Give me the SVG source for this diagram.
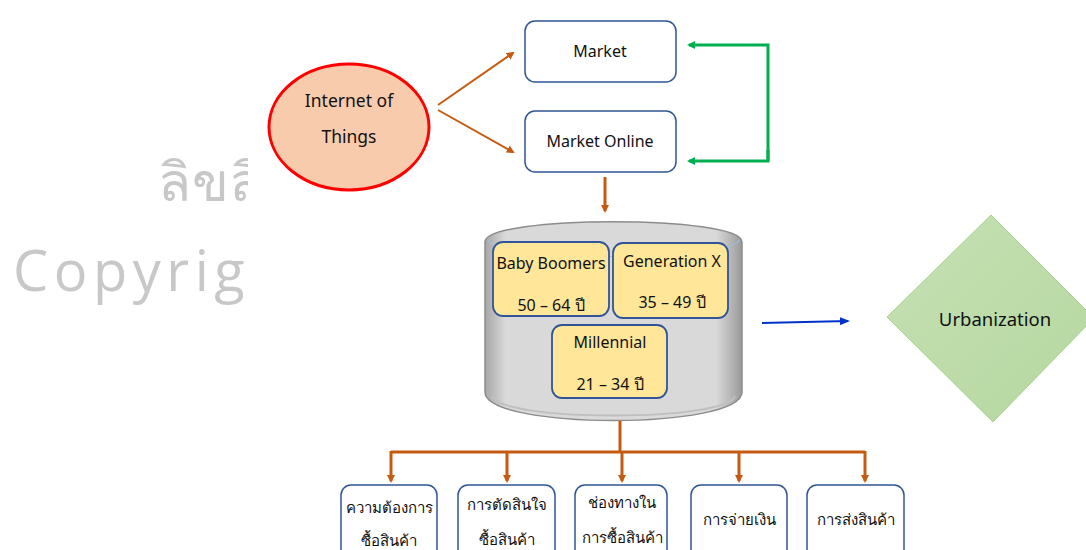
<svg xmlns="http://www.w3.org/2000/svg" width="1086" height="550" viewBox="0 0 1086 550">
<style>
text{font-family:"Noto Sans","DejaVu Sans",sans-serif;fill:#111;text-anchor:middle;}
.t{font-size:16px;}
.th{font-size:15px;}
.box{fill:#fff;stroke:#2f5597;stroke-width:1.5;}
.ybox{fill:#ffe699;stroke:#2f5597;stroke-width:1.8;}
.or{stroke:#c55a11;stroke-width:3;fill:none;}
.or2{stroke:#c55a11;stroke-width:2;fill:none;}
.gr{stroke:#00b050;stroke-width:3;fill:none;}
.wm{fill:#c8c8c8;text-anchor:start;font-family:"Open Sans","Noto Sans",sans-serif;}
</style>
<defs>
<marker id="ao" markerWidth="8" markerHeight="8" refX="6" refY="4" orient="auto" markerUnits="userSpaceOnUse"><path d="M0,0 L8,4 L0,8 Z" fill="#c55a11"/></marker>
<marker id="ag" markerWidth="8" markerHeight="8" refX="6" refY="4" orient="auto" markerUnits="userSpaceOnUse"><path d="M0,0 L8,4 L0,8 Z" fill="#00b050"/></marker>
<marker id="ab" markerWidth="10" markerHeight="8" refX="8" refY="4" orient="auto" markerUnits="userSpaceOnUse"><path d="M0,0 L10,4 L0,8 Z" fill="#0033cc"/></marker>
<linearGradient id="cyl" x1="0" x2="1" y1="0" y2="0">
<stop offset="0" stop-color="#a6a6a6"/><stop offset="0.08" stop-color="#d9d9d9"/><stop offset="0.9" stop-color="#d9d9d9"/><stop offset="1" stop-color="#9a9a9a"/>
</linearGradient>
<linearGradient id="dia" x1="0" y1="0" x2="1" y2="1">
<stop offset="0" stop-color="#c6e2b3"/><stop offset="1" stop-color="#b4d6a0"/>
</linearGradient>
<clipPath id="wmclip"><rect x="0" y="0" width="248" height="550"/></clipPath>
</defs>

<g id="watermark" clip-path="url(#wmclip)">
<text class="wm" x="158" y="201" font-size="54" letter-spacing="1">ลิขสิทธิ์</text>
<text class="wm" x="13" y="291" font-size="56" letter-spacing="5.5">Copyright</text>
</g>

<g id="connectors">
<line class="or2" x1="438" y1="105" x2="513" y2="53" marker-end="url(#ao)"/>
<line class="or2" x1="438" y1="110" x2="513" y2="152" marker-end="url(#ao)"/>
<path class="gr" d="M768,161 L768,45 L689,45" marker-end="url(#ag)"/>
<path class="gr" d="M768,150 L768,161 L689,161" marker-end="url(#ag)"/>
<line class="or" x1="605" y1="177" x2="605" y2="211" marker-end="url(#ao)"/>
<line x1="762" y1="323" x2="848" y2="321" stroke="#0033cc" stroke-width="2" marker-end="url(#ab)"/>
<path class="or" d="M620,420 L620,452 M391,452 L865,452"/>
<line class="or" x1="391" y1="451" x2="391" y2="481" marker-end="url(#ao)"/>
<line class="or" x1="507" y1="451" x2="507" y2="481" marker-end="url(#ao)"/>
<line class="or" x1="622" y1="451" x2="622" y2="481" marker-end="url(#ao)"/>
<line class="or" x1="739" y1="451" x2="739" y2="481" marker-end="url(#ao)"/>
<line class="or" x1="865" y1="451" x2="865" y2="481" marker-end="url(#ao)"/>
</g>

<g id="iot">
<ellipse cx="349" cy="127" rx="80" ry="63" fill="#f8cbad" stroke="#ff0000" stroke-width="3"/>
<text x="349" y="107" font-size="17.5">Internet  of</text>
<text x="349" y="143" font-size="17.5">Things</text>
</g>

<g id="market">
<rect class="box" x="525" y="21" width="151" height="61" rx="10"/>
<text class="t" x="600" y="57">Market</text>
</g>

<g id="market-online">
<rect class="box" x="525" y="111" width="151" height="61" rx="10"/>
<text class="t" x="600" y="147">Market Online</text>
</g>

<g id="cylinder">
<path d="M485,242 C485,215 742,215 742,242 L742,392 C742,430 485,430 485,392 Z" fill="url(#cyl)" stroke="#8c8c8c" stroke-width="1.5"/>
<path d="M488,240 C495,262 732,262 739,240" fill="none" stroke="#9dc3e6" stroke-width="1"/>
<path d="M492,396 C500,422 727,422 735,396" fill="none" stroke="#bfbfbf" stroke-width="2"/>
</g>

<g id="baby-boomers">
<rect class="ybox" x="493" y="242" width="116" height="74" rx="10"/>
<text class="t" x="551" y="269">Baby Boomers</text>
<text class="t" x="551" y="311">50 – 64 ปี</text>
</g>

<g id="generation-x">
<rect class="ybox" x="613" y="243" width="115" height="75" rx="10"/>
<text class="t" x="672" y="267">Generation X</text>
<text class="t" x="672" y="308">35 – 49 ปี</text>
</g>

<g id="millennial">
<rect class="ybox" x="552" y="325" width="115" height="73" rx="10"/>
<text class="t" x="610" y="348">Millennial</text>
<text class="t" x="610" y="390">21 – 34 ปี</text>
</g>

<g id="urbanization">
<path d="M991,215 L1094,318 L993,422 L887,317 Z" fill="url(#dia)" stroke="#a9d18e" stroke-width="1"/>
<text x="995" y="326" font-size="18.5">Urbanization</text>
</g>

<g id="need">
<rect class="box" x="341" y="485" width="96" height="75" rx="10"/>
<text class="th" x="389" y="513">ความต้องการ</text>
<text class="th" x="389" y="546">ซื้อสินค้า</text>
</g>

<g id="decision">
<rect class="box" x="458" y="485" width="97" height="75" rx="10"/>
<text class="th" x="507" y="510">การตัดสินใจ</text>
<text class="th" x="507" y="545">ซื้อสินค้า</text>
</g>

<g id="channel">
<rect class="box" x="575" y="485" width="92" height="75" rx="10"/>
<text class="th" x="622" y="508">ช่องทางใน</text>
<text class="th" x="622" y="543">การซื้อสินค้า</text>
</g>

<g id="payment">
<rect class="box" x="691" y="485" width="96" height="75" rx="10"/>
<text class="th" x="739" y="525">การจ่ายเงิน</text>
</g>

<g id="delivery">
<rect class="box" x="807" y="485" width="97" height="75" rx="10"/>
<text class="th" x="856" y="525">การส่งสินค้า</text>
</g>
</svg>
